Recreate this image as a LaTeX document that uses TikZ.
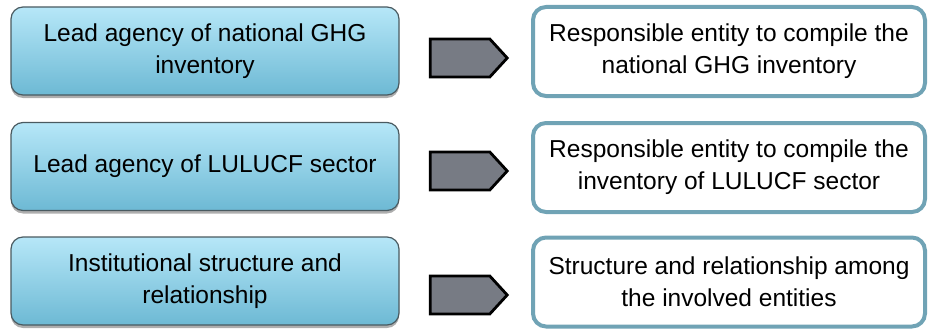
\documentclass[tikz,border=0pt]{standalone}
\usepackage{fontspec}
\setmainfont{Liberation Sans}
\usetikzlibrary{shadows,shapes.symbols}
\definecolor{boxtop}{HTML}{B6E7F8}
\definecolor{boxbot}{HTML}{6DB9D4}
\definecolor{boxedge}{HTML}{4A5A60}
\definecolor{rightedge}{HTML}{70A3B5}
\definecolor{arrowfill}{HTML}{777B84}
\tikzset{
  leftbox/.style={draw=boxedge, line width=1.2pt, rounded corners=12pt,
    top color=boxtop, bottom color=boxbot,
    drop shadow={shadow xshift=0pt, shadow yshift=-3pt, opacity=0.45, fill=black!70},
    minimum width=388pt, minimum height=88pt, align=center, inner sep=0pt,
    font=\fontsize{24.5}{32}\selectfont},
  rightbox/.style={draw=rightedge, line width=4pt, rounded corners=13pt, fill=white,
    minimum width=392pt, minimum height=89pt, align=center, inner sep=0pt,
    font=\fontsize{24.5}{32}\selectfont},
  pent/.style={signal, signal to=east, signal pointer angle=95, draw=black,
    line width=2.8pt, fill=arrowfill, minimum width=77pt, minimum height=38pt,
    inner sep=0pt}
}
\begin{document}
\begin{tikzpicture}[x=1pt,y=-1pt]
\useasboundingbox (0,0) rectangle (929,329);
\node[leftbox] (l1) at (205,51) {Lead agency of national GHG\\inventory};
\node[leftbox] (l2) at (205,166.5) {Lead agency of LULUCF sector};
\node[leftbox] (l3) at (205,281) {Institutional structure and\\relationship};
\node[rightbox] (r1) at (729,51.5) {Responsible entity to compile the\\national GHG inventory};
\node[rightbox] (r2) at (729,167.5) {Responsible entity to compile the\\inventory of LULUCF sector};
\node[rightbox] (r3) at (729,282) {Structure and relationship among\\the involved entities};
\node[pent] (a1) at (460,58) {};
\node[pent] (a2) at (460,171) {};
\node[pent] (a3) at (460,295) {};
\end{tikzpicture}
\end{document}
